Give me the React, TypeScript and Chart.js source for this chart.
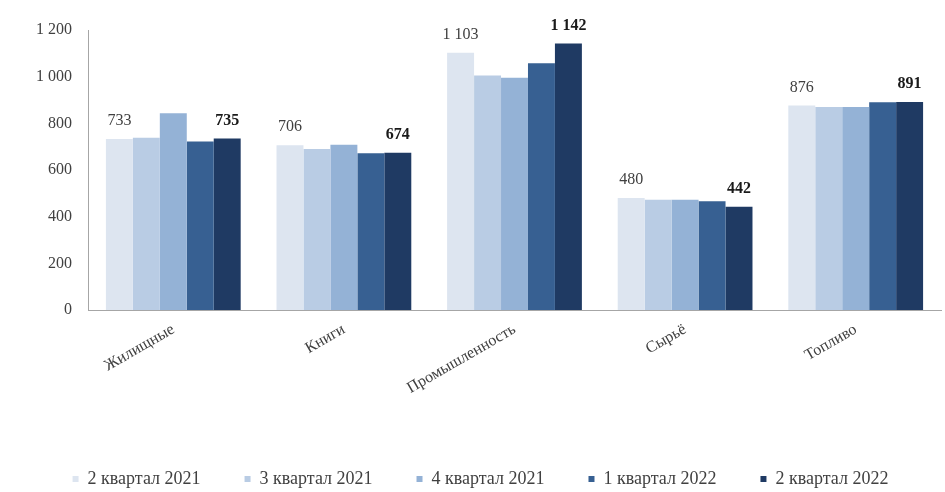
import { useEffect, useRef } from "react";
import { Chart, registerables, type ChartConfiguration, type Plugin } from "chart.js";

Chart.register(...registerables);

const categories = ["Жилищные", "Книги", "Промышленность", "Сырьё", "Топливо"];
const seriesNames = ["2 квартал 2021", "3 квартал 2021", "4 квартал 2021", "1 квартал 2022", "2 квартал 2022"];
const q2_2021 = [733, 706, 1103, 480, 876];
const q3_2021 = [738, 690, 1005, 472, 870];
const q4_2021 = [843, 708, 995, 472, 870];
const q1_2022 = [722, 672, 1058, 466, 890];
const q2_2022 = [735, 674, 1142, 442, 891];
const yTicks = [0, 200, 400, 600, 800, 1000, 1200];

const colors = ["#dde5f0", "#b9cce4", "#94b2d6", "#376092", "#1f3a63"];
const serif = "'Liberation Serif', 'Times New Roman', serif";

const fmt = (v: number) => String(v).replace(/\B(?=(\d{3})+(?!\d))/g, " ");

// value labels above the first and the last quarter only
const valueLabels: Plugin<"bar"> = {
  id: "valueLabels",
  afterDatasetsDraw(chart) {
    const ctx = chart.ctx;
    const last = chart.data.datasets.length - 1;
    [0, last].forEach((di) => {
      const meta = chart.getDatasetMeta(di);
      const data = chart.data.datasets[di].data as number[];
      ctx.save();
      ctx.font = `${di === last ? "bold " : ""}16px ${serif}`;
      ctx.fillStyle = di === last ? "#1a1a1a" : "#404040";
      ctx.textAlign = "center";
      ctx.textBaseline = "bottom";
      meta.data.forEach((el, i) => {
        ctx.fillText(fmt(data[i]), el.x, el.y - 10);
      });
      ctx.restore();
    });
  },
};

export default function App() {
  const canvasRef = useRef<HTMLCanvasElement | null>(null);
  const chartRef = useRef<Chart | null>(null);

  useEffect(() => {
    if (!canvasRef.current) return;
    const values = [q2_2021, q3_2021, q4_2021, q1_2022, q2_2022];

    const config: ChartConfiguration<"bar"> = {
      type: "bar",
      data: {
        labels: categories,
        datasets: values.map((d, i) => ({
          label: seriesNames[i],
          data: d,
          backgroundColor: colors[i],
          borderWidth: 0,
          barPercentage: 1,
          categoryPercentage: 0.79,
        })),
      },
      options: {
        responsive: true,
        maintainAspectRatio: false,
        animation: false,
        layout: { padding: { left: 20, right: 4, top: 30, bottom: -6 } },
        plugins: {
          tooltip: { enabled: false },
          legend: {
            position: "bottom",
            labels: {
              boxWidth: 6,
              boxHeight: 6,
              padding: 44,
              color: "#404040",
              font: { family: serif, size: 18 },
            },
          },
        },
        scales: {
          x: {
            grid: { display: false },
            border: { color: "#a6a6a6", width: 1 },
            ticks: {
              color: "#404040",
              font: { family: serif, size: 16 },
              minRotation: 30,
              maxRotation: 30,
              padding: 2,
            },
            afterFit: (scale) => {
              scale.height = 116;
            },
          },
          y: {
            min: 0,
            max: 1200,
            afterBuildTicks: (scale) => {
              scale.ticks = yTicks.map((v) => ({ value: v }));
            },
            grid: { display: false, drawTicks: false },
            border: { color: "#a6a6a6", width: 1 },
            ticks: {
              color: "#404040",
              padding: 16,
              font: { family: serif, size: 16 },
              callback: (v) => fmt(Number(v)),
            },
          },
        },
      },
      plugins: [valueLabels],
    };

    chartRef.current?.destroy();
    chartRef.current = new Chart(canvasRef.current, config);
    return () => {
      chartRef.current?.destroy();
      chartRef.current = null;
    };
  }, []);

  return (
    <div style={{ position: "fixed", left: 0, top: 0, width: 945, height: 492, background: "#fff" }}>
      <canvas ref={canvasRef} />
    </div>
  );
}
